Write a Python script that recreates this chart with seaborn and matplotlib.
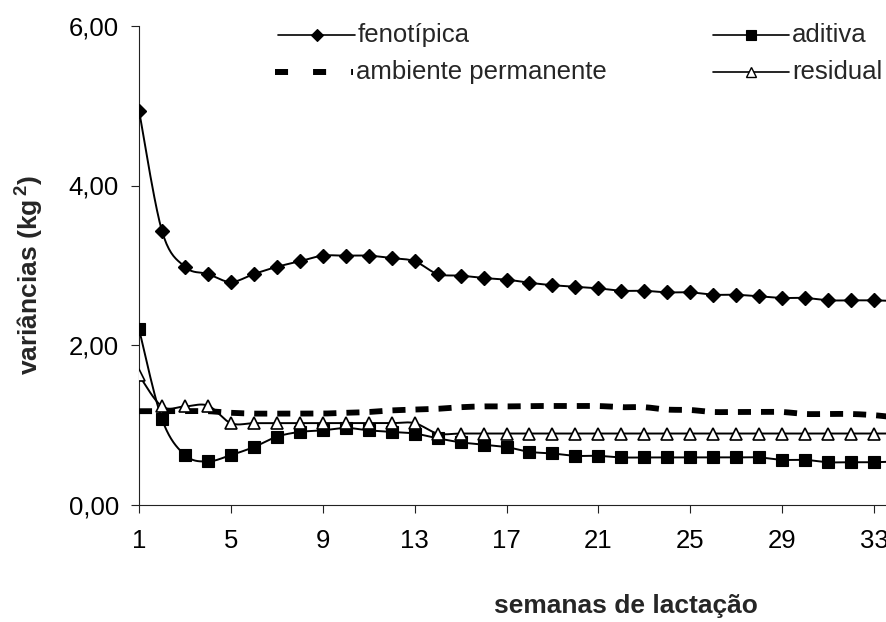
import numpy as np
import pandas as pd
import matplotlib
matplotlib.use("Agg")
import matplotlib.pyplot as plt
from matplotlib.lines import Line2D
from matplotlib.ticker import FuncFormatter, FixedLocator
import seaborn as sns

# Lactation weeks and variance components (kg^2)
semanas = list(range(1, 35))
fenotipica = [4.94, 3.43, 2.98, 2.89, 2.79, 2.89, 2.98, 3.05, 3.12, 3.12,
              3.12, 3.09, 3.05, 2.89, 2.87, 2.84, 2.82, 2.78, 2.75, 2.73,
              2.71, 2.68, 2.68, 2.66, 2.66, 2.63, 2.63, 2.61, 2.59, 2.59,
              2.56, 2.56, 2.56, 2.55]
aditiva = [2.20, 1.07, 0.62, 0.54, 0.62, 0.72, 0.85, 0.91, 0.93, 0.96,
           0.93, 0.91, 0.89, 0.83, 0.78, 0.75, 0.72, 0.66, 0.64, 0.61,
           0.61, 0.59, 0.59, 0.59, 0.59, 0.59, 0.59, 0.59, 0.56, 0.56,
           0.53, 0.53, 0.53, 0.54]
ambiente_permanente = [1.17, 1.17, 1.17, 1.17, 1.15, 1.14, 1.14, 1.14, 1.14, 1.15,
                       1.16, 1.18, 1.19, 1.20, 1.22, 1.23, 1.23, 1.235, 1.235, 1.235,
                       1.235, 1.22, 1.22, 1.19, 1.185, 1.16, 1.16, 1.16, 1.16, 1.135,
                       1.135, 1.135, 1.12, 1.09]
residual = [1.62, 1.23, 1.23, 1.24, 1.02, 1.02, 1.02, 1.02, 1.02, 1.02,
            1.02, 1.02, 1.02, 0.89, 0.89, 0.89, 0.89, 0.89, 0.89, 0.89,
            0.89, 0.89, 0.89, 0.89, 0.89, 0.89, 0.89, 0.89, 0.89, 0.89,
            0.89, 0.89, 0.89, 0.89]

x_ticks = [1, 5, 9, 13, 17, 21, 25, 29, 33]
y_ticks = [0, 2, 4, 6]

sns.set_style("white")
plt.rcParams["font.family"] = ["Liberation Sans", "DejaVu Sans"]
plt.rcParams["mathtext.fontset"] = "custom"
plt.rcParams["mathtext.rm"] = "Liberation Sans"
plt.rcParams["mathtext.bf"] = "Liberation Sans:bold"
plt.rcParams["mathtext.default"] = "bf"
plt.rcParams["lines.scale_dashes"] = False


def smooth_curve(x, y, steps=20):
    """Catmull-Rom spline through the points (smoothed line rendering)."""
    p = np.column_stack([np.asarray(x, float), np.asarray(y, float)])
    p = np.vstack([p[0], p, p[-1]])
    out = []
    t = np.linspace(0, 1, steps, endpoint=False)[:, None]
    for i in range(1, len(p) - 2):
        p0, p1, p2, p3 = p[i - 1], p[i], p[i + 1], p[i + 2]
        seg = 0.5 * ((2 * p1) + (-p0 + p2) * t
                     + (2 * p0 - 5 * p1 + 4 * p2 - p3) * t ** 2
                     + (-p0 + 3 * p1 - 3 * p2 + p3) * t ** 3)
        out.append(seg)
    out.append(p[-2][None, :])
    pts = np.vstack(out)
    return pd.DataFrame({"semana": pts[:, 0], "valor": pts[:, 1]})


W, H = 886, 622
fig = plt.figure(figsize=(W / 100, H / 100), dpi=100)
# plot area: x=1 at the y axis, extends past the right figure edge
ax_left, ax_bottom = 139 / W, (H - 504.5) / H
px_per_week = 22.97
x_max = 34
ax = fig.add_axes([ax_left, ax_bottom, (x_max - 1) * px_per_week / W, 478.5 / H])

series = [
    ("fenotípica", fenotipica, dict(marker="D", ms=7.6, mfc="black", mec="black", mew=1.0)),
    ("aditiva", aditiva, dict(marker="s", ms=8.6, mfc="black", mec="black", mew=0.8)),
    ("ambiente permanente", ambiente_permanente, None),
    ("residual", residual, dict(marker="^", ms=8.6, mfc="white", mec="black", mew=1.2)),
]

z = 3
for name, vals, mk in series:
    curve = smooth_curve(semanas, vals)
    if mk is None:
        sns.lineplot(data=curve, x="semana", y="valor", ax=ax, sort=False,
                     estimator=None, color="black", lw=4.2,
                     dashes=False, zorder=z)
        ax.lines[-1].set_dashes((9.4, 7.2))
        ax.lines[-1].set_dash_capstyle("butt")
    else:
        sns.lineplot(data=curve, x="semana", y="valor", ax=ax, sort=False,
                     estimator=None, color="black", lw=1.4, zorder=z)
        ax.plot(semanas, vals, ls="none", zorder=z + 0.5, **mk)
    z += 1

ax.set_xlim(1, x_max)
ax.set_ylim(0, 6)
ax.xaxis.set_major_locator(FixedLocator(x_ticks))
ax.yaxis.set_major_locator(FixedLocator(y_ticks))
ax.yaxis.set_major_formatter(FuncFormatter(lambda v, _: f"{v:.2f}".replace(".", ",")))
ax.tick_params(axis="both", direction="out", length=5.5, width=0.8,
               color="#222222", labelsize=18.5, labelcolor="black")
ax.tick_params(axis="y", pad=9)
ax.tick_params(axis="x", pad=12)
ax.tick_params(left=True, bottom=True)
for side in ("top", "right"):
    ax.spines[side].set_visible(False)
for side in ("left", "bottom"):
    ax.spines[side].set_color("#222222")
    ax.spines[side].set_linewidth(0.8)

ax.set_xlabel("semanas de lactação", fontsize=19, fontweight="bold")
ax.xaxis.set_label_coords((626 - 139) / ((x_max - 1) * px_per_week), (504.5 - 606) / 478.5)
ax.xaxis.label.set_verticalalignment("center")
ax.set_ylabel(r"variâncias (kg$^{\,2}$)", fontsize=19, fontweight="bold")
ax.yaxis.set_label_coords((30 - 139) / ((x_max - 1) * px_per_week), (504.5 - 275) / 478.5)
ax.yaxis.label.set_verticalalignment("center")
ax.yaxis.label.set_horizontalalignment("center")

# legend drawn in two columns above the curves
def fx(px):
    return px / W


def fy(py):
    return (H - py) / H


legend_rows = [
    (278, 355, 35, "fenotípica", dict(marker="D", ms=6.0, mfc="black", mec="black", mew=0.8), None),
    (713, 789, 35, "aditiva", dict(marker="s", ms=7.0, mfc="black", mec="black", mew=0.8), None),
    (275, 353, 72, "ambiente permanente", None, (9.4, 18.0)),
    (713, 789, 72, "residual", dict(marker="^", ms=7.4, mfc="white", mec="black", mew=1.0), None),
]
for x0, x1, yy, label, mk, dash in legend_rows:
    if dash is None:
        fig.add_artist(Line2D([fx(x0), fx(x1)], [fy(yy), fy(yy)], transform=fig.transFigure,
                              color="black", lw=1.2))
        fig.add_artist(Line2D([fx((x0 + x1) / 2)], [fy(yy)], transform=fig.transFigure,
                              ls="none", **mk))
    else:
        ln = Line2D([fx(x0), fx(x1)], [fy(yy), fy(yy)], transform=fig.transFigure,
                    color="black", lw=4.3, dash_capstyle="butt")
        ln.set_dashes(dash)
        fig.add_artist(ln)
    fig.text(fx(x1 + 3), fy(yy), label, fontsize=18.5, va="center", ha="left")

fig.savefig("out.png", dpi=100)
